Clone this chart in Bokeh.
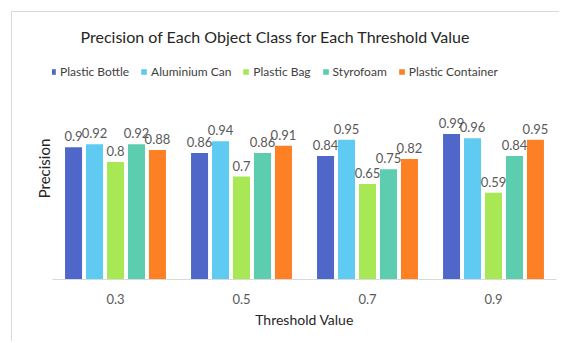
from bokeh.plotting import figure
from bokeh.models import (ColumnDataSource, FactorRange, Legend, LegendItem, LabelSet, Range1d,
                          FixedTicker)
from bokeh.transform import dodge
from bokeh.core.properties import value
from bokeh.embed import file_html
from bokeh.resources import INLINE

thresholds = ["0.3", "0.5", "0.7", "0.9"]
series_names = ["Plastic Bottle", "Aluminium Can", "Plastic Bag", "Styrofoam", "Plastic Container"]
plastic_bottle = [0.90, 0.86, 0.84, 0.99]
aluminium_can = [0.92, 0.94, 0.95, 0.96]
plastic_bag = [0.80, 0.70, 0.65, 0.59]
styrofoam = [0.92, 0.86, 0.75, 0.84]
plastic_container = [0.88, 0.91, 0.82, 0.95]
series_values = [plastic_bottle, aluminium_can, plastic_bag, styrofoam, plastic_container]
colors = ["#4E67C8", "#5FCBF2", "#A9E855", "#5DCDB0", "#FD8024"]
offsets = [-0.333, -0.1665, 0.0, 0.1665, 0.333]

FONT = "Lato"

data = {"x": thresholds}
for i, vals in enumerate(series_values):
    data[f"s{i}"] = vals
    data[f"l{i}"] = [f"{v:g}" for v in vals]
src = ColumnDataSource(data)

p = figure(
    x_range=FactorRange(factors=thresholds, range_padding=0),
    y_range=Range1d(0, 1.51),
    width=548, height=330,
    output_backend="svg", toolbar_location=None,
    min_border_left=40, min_border_right=4, min_border_top=42, min_border_bottom=63,
    title="Precision of Each Object Class for Each Threshold Value",
)
p.margin = (12, 0, 0, 12)
p.styles = {"box-shadow": "-1px -1px 0 0 #D9D9D9"}

p.title.text_font = FONT
p.title.text_font_size = "16px"
p.title.text_font_style = "normal"
p.title.text_color = "#262626"
p.title.align = "left"
p.title.offset = 28
p.title.standoff = 24

p.outline_line_color = None
p.xgrid.grid_line_color = None
p.ygrid.grid_line_color = None
p.background_fill_color = "white"
p.border_fill_color = "white"

items = []
for i, name in enumerate(series_names):
    r = p.vbar(x=dodge("x", offsets[i], range=p.x_range), top=f"s{i}", width=0.135,
               source=src, fill_color=colors[i], line_color=None)
    items.append(LegendItem(label=name, renderers=[r]))
    labels = LabelSet(x=dodge("x", offsets[i], range=p.x_range), y=f"s{i}", text=f"l{i}",
                      source=src, text_align="center", text_baseline="bottom", y_offset=6,
                      text_font=value(FONT), text_font_size="13px", text_color="#595959")
    p.add_layout(labels)

legend = Legend(items=items, orientation="horizontal", location=(-3, 200),
                glyph_width=7, glyph_height=7, label_height=14, label_standoff=4,
                spacing=11, padding=3, margin=0, border_line_color=None,
                background_fill_alpha=0, label_text_font=FONT, label_text_font_size="12px",
                label_text_color="#404040")
p.add_layout(legend)

p.yaxis.ticker = FixedTicker(ticks=[])
p.yaxis.major_tick_out = 0
p.yaxis.major_tick_in = 0
p.yaxis.major_tick_line_color = None
p.yaxis.minor_tick_line_color = None
p.yaxis.axis_line_color = None
p.yaxis.major_label_standoff = 0
p.yaxis.axis_label = "Precision"
p.yaxis.axis_label_standoff = 0
p.yaxis.axis_label_text_font = FONT
p.yaxis.axis_label_text_font_size = "15px"
p.yaxis.axis_label_text_font_style = "normal"
p.yaxis.axis_label_text_color = "#262626"

p.xaxis.axis_line_color = "#D9D9D9"
p.xaxis.major_tick_out = 0
p.xaxis.major_tick_in = 0
p.xaxis.major_tick_line_color = None
p.xaxis.minor_tick_line_color = None
p.xaxis.major_label_standoff = 14
p.xaxis.major_label_text_font = FONT
p.xaxis.major_label_text_font_size = "13px"
p.xaxis.major_label_text_color = "#595959"
p.xaxis.axis_label = "Threshold Value"
p.xaxis.axis_label_standoff = 4
p.xaxis.axis_label_text_font = FONT
p.xaxis.axis_label_text_font_size = "14px"
p.xaxis.axis_label_text_font_style = "normal"
p.xaxis.axis_label_text_color = "#262626"

open("out.html", "w").write(file_html(p, INLINE))
